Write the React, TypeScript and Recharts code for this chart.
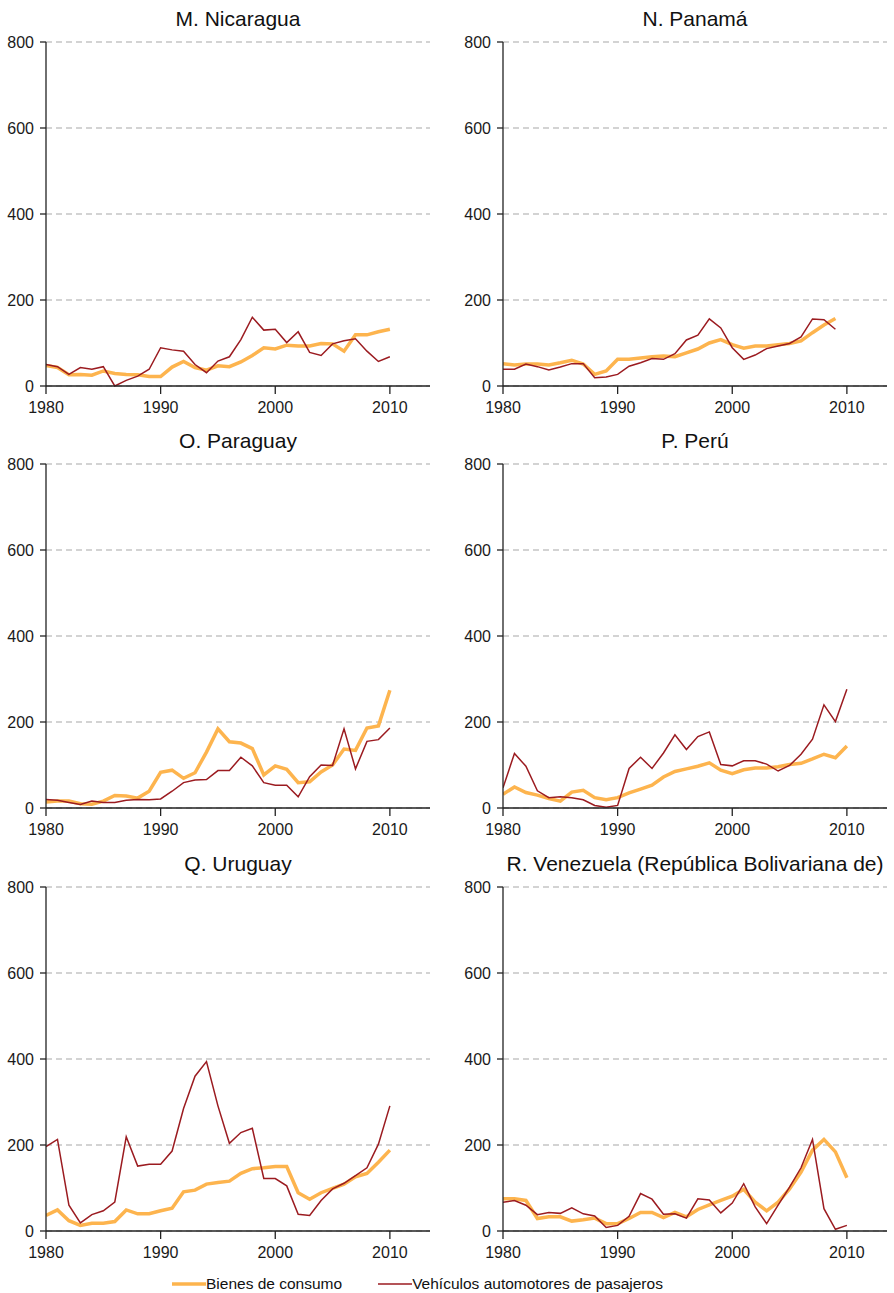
import { LineChart, Line, XAxis, YAxis, CartesianGrid } from 'recharts';

const years = [
  1980, 1981, 1982, 1983, 1984, 1985, 1986, 1987, 1988, 1989,
  1990, 1991, 1992, 1993, 1994, 1995, 1996, 1997, 1998, 1999,
  2000, 2001, 2002, 2003, 2004, 2005, 2006, 2007, 2008, 2009, 2010,
];

const yTicks = [0, 200, 400, 600, 800];
const xTicks = [1980, 1990, 2000, 2010];

// Bienes de consumo / Vehículos automotores de pasajeros, by country
const nicaraguaConsumo = [48, 43, 26, 27, 25, 35, 29, 27, 26, 22, 22, 44, 57, 43, 37, 47, 45, 56, 71, 89, 86, 95, 93, 93, 99, 98, 81, 119, 119, 126, 132];
const nicaraguaVehiculos = [50, 45, 27, 43, 39, 45, 0, 13, 23, 39, 89, 84, 81, 50, 31, 58, 68, 108, 160, 130, 132, 101, 126, 78, 71, 98, 105, 110, 81, 57, 68];

const panamaConsumo = [52, 49, 51, 51, 49, 54, 60, 51, 27, 35, 62, 62, 65, 68, 70, 68, 77, 86, 100, 108, 96, 88, 93, 93, 96, 99, 105, 124, 142, 157];
const panamaVehiculos = [39, 39, 51, 45, 37, 44, 52, 52, 19, 21, 27, 46, 54, 64, 62, 75, 107, 118, 156, 135, 89, 62, 72, 87, 93, 99, 114, 156, 154, 132];

const paraguayConsumo = [14, 16, 16, 10, 9, 16, 29, 28, 23, 39, 83, 88, 69, 82, 130, 184, 154, 151, 138, 77, 98, 90, 59, 61, 84, 100, 137, 134, 186, 191, 274];
const paraguayVehiculos = [20, 18, 13, 8, 16, 13, 13, 18, 20, 19, 21, 39, 59, 65, 66, 87, 87, 118, 98, 59, 53, 53, 26, 73, 100, 99, 184, 91, 155, 159, 186];

const peruConsumo = [32, 49, 36, 30, 22, 16, 37, 41, 24, 19, 24, 35, 44, 53, 72, 85, 91, 97, 105, 88, 80, 89, 93, 93, 96, 101, 104, 114, 125, 117, 144];
const peruVehiculos = [47, 127, 97, 40, 24, 26, 24, 19, 6, 2, 6, 92, 118, 92, 128, 170, 136, 166, 177, 101, 98, 110, 110, 102, 86, 99, 125, 160, 240, 201, 276];

const uruguayConsumo = [36, 49, 24, 13, 18, 18, 22, 49, 40, 40, 47, 53, 91, 95, 109, 113, 116, 134, 145, 147, 150, 150, 89, 74, 89, 99, 109, 126, 134, 160, 188];
const uruguayVehiculos = [196, 213, 60, 19, 38, 47, 67, 219, 151, 155, 155, 186, 285, 360, 394, 291, 204, 229, 239, 122, 122, 105, 39, 36, 71, 98, 111, 129, 147, 202, 291];

const venezuelaConsumo = [75, 75, 71, 29, 33, 33, 23, 26, 30, 17, 17, 29, 43, 43, 31, 43, 33, 50, 61, 71, 81, 97, 67, 47, 67, 98, 137, 188, 213, 184, 124];
const venezuelaVehiculos = [67, 71, 60, 38, 43, 41, 54, 40, 35, 8, 13, 34, 87, 74, 39, 40, 30, 75, 72, 42, 65, 110, 56, 17, 60, 102, 147, 213, 52, 4, 13];

const ORANGE = '#fdb44e';
const RED = '#9b1b20';
const FONT = '"Liberation Sans", Arial, Helvetica, sans-serif';

const buildRows = (consumo: number[], vehiculos: number[]) =>
  years.map((year, i) => ({
    year,
    consumo: consumo[i] ?? null,
    vehiculos: vehiculos[i] ?? null,
  }));

interface PanelProps {
  title: string;
  consumo: number[];
  vehiculos: number[];
  left: number;
  top: number; // y of the 800 gridline
  right: boolean;
}

function Panel({ title, consumo, vehiculos, left, top, right }: PanelProps) {
  const width = 447;
  const marginLeft = right ? 16 : 6;
  const marginRight = right ? 7 : 17;
  const plotLeft = marginLeft + 40;
  const plotWidth = width - plotLeft - marginRight;
  const data = buildRows(consumo, vehiculos);

  return (
    <div style={{ position: 'absolute', left, top: top - 35, width, height: 430 }}>
      <div
        style={{
          position: 'absolute', left: plotLeft, width: plotWidth, top: 0,
          height: 24, lineHeight: '24px', textAlign: 'center',
          fontSize: 21, color: '#111', whiteSpace: 'nowrap',
        }}
      >
        {title}
      </div>
      <div style={{ position: 'absolute', left: 0, top: 25 }}>
        <LineChart width={width} height={394} data={data}
          margin={{ top: 10, right: marginRight, bottom: 0, left: marginLeft }}>
          <CartesianGrid vertical={false} stroke="#a8a8a8" strokeDasharray="6 4" strokeWidth={1.2} />
          <XAxis dataKey="year" type="number" domain={[1980, 2013.5]} ticks={xTicks}
            allowDataOverflow height={40} tickSize={8} tickMargin={8}
            axisLine={{ stroke: '#222', strokeWidth: 1.3 }} tickLine={{ stroke: '#222', strokeWidth: 1.3 }}
            tick={{ fontSize: 16, fill: '#1a1a1a', fontFamily: FONT }} />
          <YAxis type="number" domain={[0, 800]} ticks={yTicks} width={40}
            tickSize={6} tickMargin={6} interval={0}
            axisLine={{ stroke: '#222', strokeWidth: 1.3 }} tickLine={{ stroke: '#222', strokeWidth: 1.3 }}
            tick={{ fontSize: 16, fill: '#1a1a1a', fontFamily: FONT }} />
          <Line type="linear" dataKey="consumo" stroke={ORANGE} strokeWidth={3.5}
            dot={false} isAnimationActive={false} />
          <Line type="linear" dataKey="vehiculos" stroke={RED} strokeWidth={1.5}
            dot={false} isAnimationActive={false} />
        </LineChart>
      </div>
    </div>
  );
}

function LegendItem({ color, width, label }: { color: string; width: number; label: string }) {
  return (
    <div style={{ display: 'flex', alignItems: 'center' }}>
      <svg width={34} height={6} style={{ display: 'block' }}>
        <line x1={0} y1={3} x2={34} y2={3} stroke={color} strokeWidth={width} />
      </svg>
      <span>{label}</span>
    </div>
  );
}

export default function App() {
  return (
    <div style={{ position: 'absolute', left: 0, top: 0, width: 894, height: 1293, background: '#fff', fontFamily: FONT }}>
      <Panel title="M. Nicaragua" consumo={nicaraguaConsumo} vehiculos={nicaraguaVehiculos} left={0} top={42} right={false} />
      <Panel title="N. Panamá" consumo={panamaConsumo} vehiculos={panamaVehiculos} left={447} top={42} right />
      <Panel title="O. Paraguay" consumo={paraguayConsumo} vehiculos={paraguayVehiculos} left={0} top={464} right={false} />
      <Panel title="P. Perú" consumo={peruConsumo} vehiculos={peruVehiculos} left={447} top={464} right />
      <Panel title="Q. Uruguay" consumo={uruguayConsumo} vehiculos={uruguayVehiculos} left={0} top={887} right={false} />
      <Panel title="R. Venezuela (República Bolivariana de)" consumo={venezuelaConsumo} vehiculos={venezuelaVehiculos} left={447} top={887} right />

      <div style={{
        position: 'absolute', left: 172, top: 1272, height: 24, display: 'flex',
        alignItems: 'center', gap: 36, fontSize: 15.5, color: '#111',
      }}>
        <LegendItem color={ORANGE} width={3.5} label="Bienes de consumo" />
        <LegendItem color={RED} width={1.5} label="Vehículos automotores de pasajeros" />
      </div>
    </div>
  );
}
